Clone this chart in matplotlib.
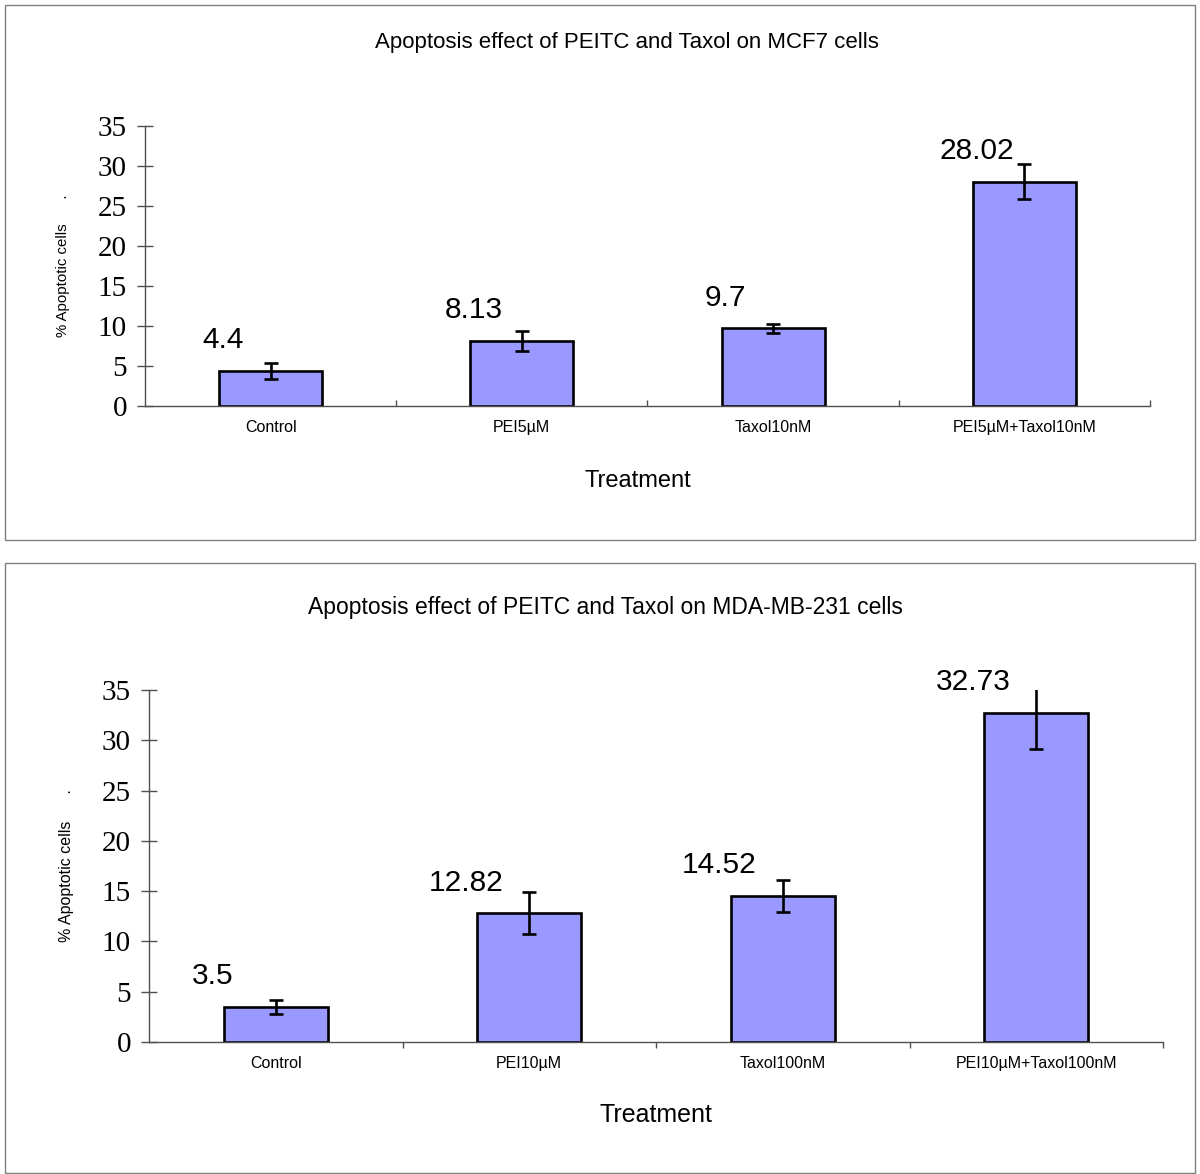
import numpy as np
import matplotlib.pyplot as plt
from matplotlib.patches import Rectangle

# panel 1: MCF7
mcf7_labels = ["Control", "PEI5µM", "Taxol10nM", "PEI5µM+Taxol10nM"]
mcf7_values = [4.4, 8.13, 9.7, 28.02]
mcf7_errors = [1.0, 1.25, 0.6, 2.2]

# panel 2: MDA-MB-231
mda_labels = ["Control", "PEI10µM", "Taxol100nM", "PEI10µM+Taxol100nM"]
mda_values = [3.5, 12.82, 14.52, 32.73]
mda_errors = [0.7, 2.1, 1.6, 3.6]

y_ticks = [0, 5, 10, 15, 20, 25, 30, 35]

BAR = "#9999ff"
AXC = "#505050"


def draw_panel(ax, labels, values, errors, xtick_dir, lab_off, lab_size):
    x = np.arange(len(values))
    ax.bar(x, values, width=0.41, color=BAR, edgecolor="black", linewidth=1.9, zorder=2)
    ax.errorbar(x, values, yerr=errors, fmt="none", ecolor="black",
                elinewidth=1.9, capsize=4.8, capthick=1.9, zorder=3)
    for xi, v in zip(x, values):
        ax.annotate(f"{v:g}", (xi + lab_off, v), xytext=(0, 22),
                    textcoords="offset points", ha="center", va="center",
                    fontsize=21.5, family="Liberation Sans")
    ax.set_xlim(-0.5, 3.5)
    ax.set_ylim(0, 35)
    ax.set_yticks(y_ticks)
    ax.set_yticklabels([str(t) for t in y_ticks], family="Liberation Serif", fontsize=21)
    ax.tick_params(axis="y", direction="inout", length=12, width=1, color=AXC, pad=7)
    ax.set_xticks(x)
    ax.set_xticklabels(labels, fontsize=11.5, family="Liberation Sans")
    ax.tick_params(axis="x", which="major", length=0, pad=10)
    ax.set_xticks([0.5, 1.5, 2.5, 3.5], minor=True)
    ax.tick_params(axis="x", which="minor", direction=xtick_dir, length=4, width=1, color=AXC)
    for s in ["top", "right"]:
        ax.spines[s].set_visible(False)
    for s in ["left", "bottom"]:
        ax.spines[s].set_color(AXC)
        ax.spines[s].set_linewidth(1)
    ax.set_ylabel("% Apoptotic cells      .", fontsize=lab_size, family="Liberation Sans",
                  labelpad=20)


fig = plt.figure(figsize=(12, 11.74), dpi=100)

# panel frames
fig.patches.append(Rectangle((5 / 1200, 1 - 540 / 1174), 1190 / 1200, 535 / 1174,
                             transform=fig.transFigure, fill=False, edgecolor="#808080", lw=1))
fig.patches.append(Rectangle((5 / 1200, 1 / 1174), 1190 / 1200, 610 / 1174,
                             transform=fig.transFigure, fill=False, edgecolor="#808080", lw=1))

ax1 = fig.add_axes([0.1208, 0.6542, 0.8375, 0.2385])
draw_panel(ax1, mcf7_labels, mcf7_values, mcf7_errors, "in", -0.19, 10.8)
ax1.set_title("Apoptosis effect of PEITC and Taxol on MCF7 cells", fontsize=16,
              family="Liberation Sans", pad=56, x=0.48)
ax1.set_xlabel("Treatment", fontsize=17, family="Liberation Sans", labelpad=25, x=0.49)

ax2 = fig.add_axes([0.1242, 0.1124, 0.845, 0.2998])
draw_panel(ax2, mda_labels, mda_values, mda_errors, "out", -0.25, 11.5)
ax2.set_title("Apoptosis effect of PEITC and Taxol on MDA-MB-231 cells", fontsize=16.5,
              family="Liberation Sans", pad=55, x=0.45)
ax2.set_xlabel("Treatment", fontsize=18, family="Liberation Sans", labelpad=23, x=0.5)

fig.savefig("out.png", dpi=100)
